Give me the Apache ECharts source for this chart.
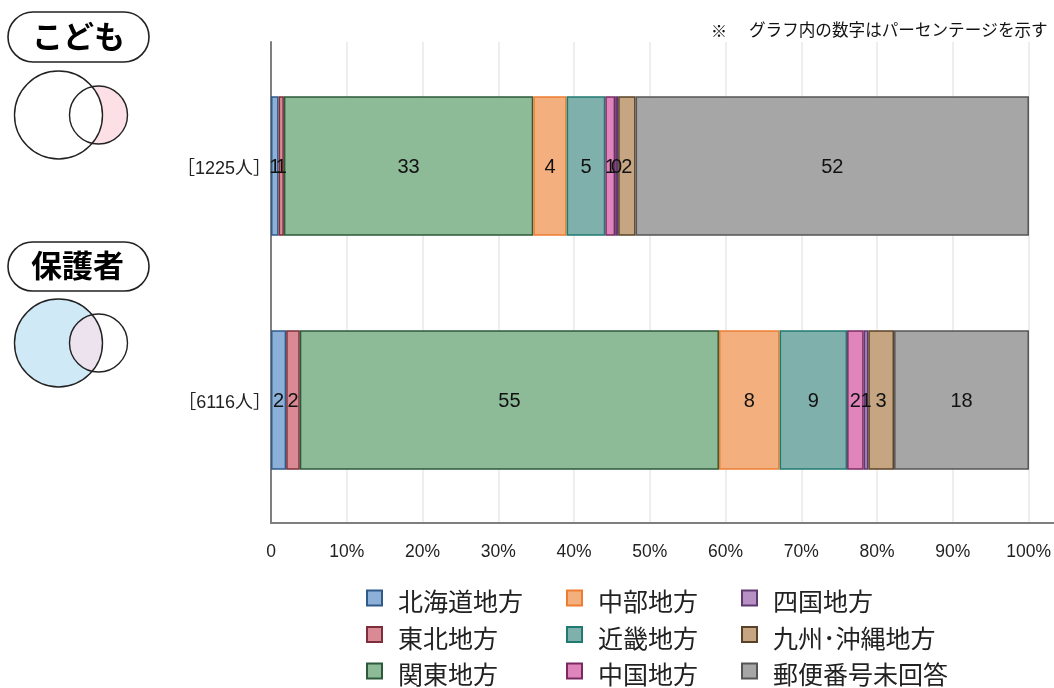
<!DOCTYPE html>
<html lang="ja">
<head>
<meta charset="utf-8">
<style>html,body{margin:0;padding:0;background:#fff}#c{width:1054px;height:688px}</style>
<script src="https://cdn.jsdelivr.net/npm/echarts@6/dist/echarts.min.js"></script>
</head>
<body>
<div id="c"></div>
<script>
const categories = ['［1225人］', '［6116人］'];
const hokkaido = [1.0, 2.0];
const tohoku   = [0.7, 1.8];
const kanto    = [32.9, 55.3];
const chubu    = [4.4, 8.0];
const kinki    = [5.1, 8.9];
const chugoku  = [1.3, 2.2];
const shikoku  = [0.4, 0.6];
const kyushu   = [2.3, 3.4];
const noAnswer = [51.9, 17.8];
const tickValues = [0, 10, 20, 30, 40, 50, 60, 70, 80, 90, 100];

const FONT = '"Liberation Sans","Noto Sans CJK JP",sans-serif';
const JP = '"Noto Sans CJK JP",sans-serif';
const AXIS_MAX = 103.3;

const defs = [
  ['北海道地方', hokkaido, '#8DB0D8', '#2F5A8A'],
  ['東北地方', tohoku, '#D98A94', '#7A2F3B'],
  ['関東地方', kanto, '#8DBB97', '#2D5A3A'],
  ['中部地方', chubu, '#F3B07E', '#ED7D31'],
  ['近畿地方', kinki, '#80B0AC', '#1F7A72'],
  ['中国地方', chugoku, '#E085BC', '#7A2A60'],
  ['四国地方', shikoku, '#B891C4', '#5E3A70'],
  ['九州･沖縄地方', kyushu, '#C5A582', '#5A4228'],
  ['郵便番号未回答', noAnswer, '#A6A6A6', '#555555']
];

const series = defs.map(d => ({
  name: d[0], type: 'bar', stack: 'all', xAxisIndex: 0, yAxisIndex: 0,
  barWidth: '59.6%', data: d[1],
  itemStyle: { color: d[2], borderColor: d[3], borderWidth: 1.5 },
  label: { show: true, position: 'inside', offset: [0, 1.5], color: '#111', fontFamily: FONT, fontSize: 20,
           formatter: p => String(Math.round(p.value)) }
}));

function legend(left, names) {
  return {
    orient: 'vertical', left: left, top: 582, height: 106, padding: 0,
    icon: 'rect', itemWidth: 15, itemHeight: 15, itemGap: 4.5,
    data: names, selectedMode: false,
    formatter: n => `{a|${n}}`,
    textStyle: { rich: { a: { fontFamily: JP, fontSize: 25, color: '#222', padding: [7, 0, 0, 11], lineHeight: 25 } } }
  };
}
const stroke = { stroke: '#222', lineWidth: 1.4 };
function circle(cx, cy, r, fill) {
  return { type: 'circle', shape: { cx, cy, r }, style: { fill: fill, ...stroke } };
}
function disc(cx, cy, r, fill) {
  return { type: 'circle', shape: { cx, cy, r }, style: { fill: fill } };
}
function lens(bigCx, smallCx, cy, R, r, fill) {
  const pts = [];
  const a = Math.asin(28.3 / R), b = Math.asin(28.3 / r);
  for (let i = 0; i <= 40; i++) {
    const t = -a + 2 * a * i / 40;
    pts.push([bigCx + R * Math.cos(t), cy + R * Math.sin(t)]);
  }
  for (let i = 0; i <= 40; i++) {
    const t = Math.PI - b + 2 * b * i / 40;
    pts.push([smallCx + r * Math.cos(t), cy + r * Math.sin(t)]);
  }
  return { type: 'polygon', shape: { points: pts }, style: { fill: fill } };
}
function pill(x, y, w, h, txt, fs, dx) {
  return [
    { type: 'rect', shape: { x, y, width: w, height: h, r: h / 2 }, style: { fill: '#fff', stroke: '#222', lineWidth: 1.6 } },
    { type: 'text', x: x + w / 2 + dx, y: y + h / 2 - 1, style: { text: txt, fill: '#000', font: `bold ${fs}px ${JP}`, align: 'center', verticalAlign: 'middle' } }
  ];
}

const option = {
  animation: false,
  backgroundColor: '#fff',
  grid: [
    { left: 271, top: 49, width: 783, height: 468 },
    { left: 271, top: 42, width: 783, height: 481 }
  ],
  xAxis: [
    { gridIndex: 0, type: 'value', min: 0, max: AXIS_MAX, show: false },
    { gridIndex: 1, type: 'value', min: 0, max: AXIS_MAX,
      axisLine: { show: true, lineStyle: { color: '#7F7F7F', width: 2 } },
      axisTick: { show: false, customValues: tickValues },
      splitLine: { show: true, lineStyle: { color: '#E8E8E8', width: 1.5 } },
      axisLabel: { customValues: tickValues, margin: 20, color: '#222', fontFamily: FONT, fontSize: 17.5,
                   formatter: v => v === 0 ? '0' : v + '%' } }
  ],
  yAxis: [
    { gridIndex: 0, type: 'category', inverse: true, data: categories,
      axisLine: { show: false }, axisTick: { show: false }, splitLine: { show: false },
      axisLabel: { margin: 0, formatter: v => `{a|${v}}`,
                   rich: { a: { color: '#222', fontFamily: FONT, fontSize: 18, lineHeight: 20, padding: [7, 0, 0, 0] } } } },
    { gridIndex: 1, type: 'category', data: [''],
      axisLine: { show: true, lineStyle: { color: '#7F7F7F', width: 2 } },
      axisTick: { show: false }, axisLabel: { show: false }, splitLine: { show: false } }
  ],
  legend: [
    legend(366, defs.slice(0, 3).map(d => d[0])),
    legend(566, defs.slice(3, 6).map(d => d[0])),
    legend(741, defs.slice(6, 9).map(d => d[0]))
  ],
  series: series,
  graphic: { elements: [
    ...pill(8, 12, 141, 50, 'こども', 31, 0),
    disc(98.5, 115, 29, '#FDE0E6'),
    disc(58.5, 115, 44, '#FFFFFF'),
    circle(58.5, 115, 44, 'transparent'),
    circle(98.5, 115, 29, 'transparent'),
    ...pill(8, 242, 141, 49, '保護者', 31, -1),
    disc(58.5, 343, 44, '#CFE9F6'),
    lens(58.5, 98.5, 343, 44, 29, '#ECE3EE'),
    circle(58.5, 343, 44, 'transparent'),
    circle(98.5, 343, 29, 'transparent'),
    { type: 'text', x: 711, y: 31, style: { text: '※', fill: '#111', font: `16px ${JP}`, verticalAlign: 'middle' } },
    { type: 'text', x: 749, y: 30, style: { text: 'グラフ内の数字はパーセンテージを示す', fill: '#111', font: `16.6px ${JP}`, verticalAlign: 'middle' } }
  ] }
};
echarts.init(document.getElementById('c')).setOption(option);
</script>
</body>
</html>
